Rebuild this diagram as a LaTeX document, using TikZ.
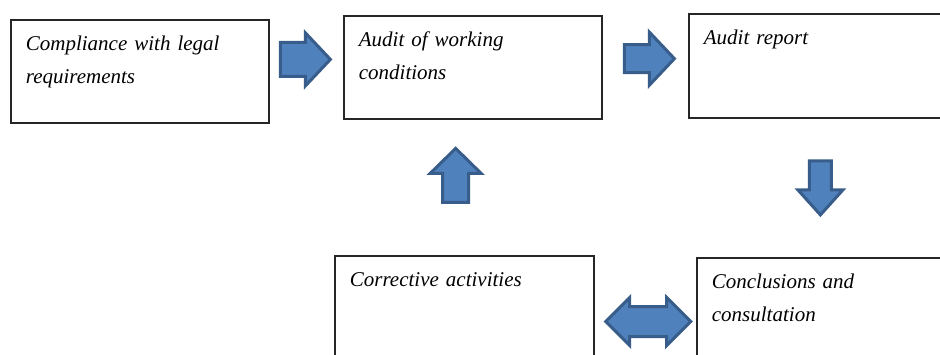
\documentclass[tikz,border=0pt]{standalone}
\usepackage{fontspec}
\setmainfont{Liberation Serif}
\usetikzlibrary{calc}
\definecolor{arrowblue}{RGB}{79,129,189}
\definecolor{arrowedge}{RGB}{56,93,138}
\tikzset{
	box/.style={draw=black!85, line width=1.8pt, anchor=north west, align=left,
		inner xsep=15pt, inner ysep=0pt, text height=31pt,
		font=\fontsize{21}{33}\selectfont\itshape},
	arrowfill/.style={fill=arrowblue, draw=arrowedge, line width=3pt, line join=miter},
	pics/fatarrow/.style args={#1/#2/#3}{code={
		\draw[arrowfill] (-#1/2,-#3/2) -- (#1/2-25,-#3/2) -- (#1/2-25,-#2/2) -- (#1/2,0)
			-- (#1/2-25,#2/2) -- (#1/2-25,#3/2) -- (-#1/2,#3/2) -- cycle;}},
	pics/fatdouble/.style args={#1/#2/#3}{code={
		\draw[arrowfill] (-#1/2,0) -- (-#1/2+24,-#2/2) -- (-#1/2+24,-#3/2) -- (#1/2-24,-#3/2)
			-- (#1/2-24,-#2/2) -- (#1/2,0) -- (#1/2-24,#2/2) -- (#1/2-24,#3/2)
			-- (-#1/2+24,#3/2) -- (-#1/2+24,#2/2) -- cycle;}}
}

\begin{document}
\begin{tikzpicture}[x=1pt, y=-1pt]
	\useasboundingbox (0,0) rectangle (940,354);
	\clip (0,0) rectangle (940,354);
	%
	\node[box, text width=228pt, text depth=72pt] (comp) at (10,19) {Compliance with legal\\requirements};
	\node[box, text width=228pt, text depth=72pt] (audit) at (343,15) {Audit of working\\conditions};
	\node[box, text width=250pt, text depth=73pt] (report) at (688,13) {Audit report};
	\node[box, text width=229pt, text depth=99pt] (corr) at (334,255) {Corrective activities};
	\node[box, text width=240pt, text depth=99pt] (concl) at (696,257) {Conclusions and\\consultation};
	%
	\pic at ($(comp.east)!0.5!(audit.west)+(-1,-10)$) {fatarrow={50/53/34}};
	\pic at ($(audit.east)!0.5!(report.west)+(4,-8)$) {fatarrow={50/53/28}};
	\pic[rotate=-90] at ($(report.south)!0.5!(concl.north)+(-10,0)$) {fatarrow={54/45/22}};
	\pic[rotate=90] at ($(audit.south)!0.5!(corr.north)+(-13,-12)$) {fatarrow={54/51/26}};
	\pic at ($(corr.east)!0.3!(concl.west)+(23,0)$) {fatdouble={85/48/30}};
\end{tikzpicture}
\end{document}
